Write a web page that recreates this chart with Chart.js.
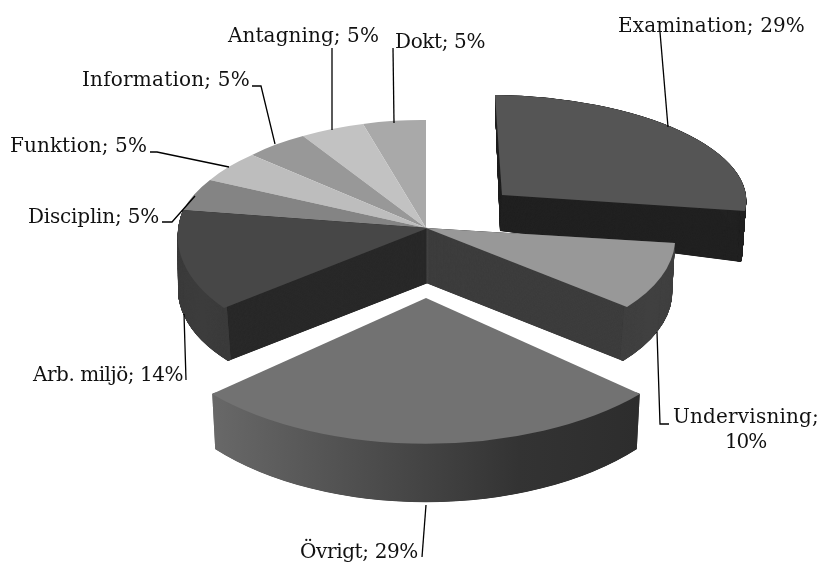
<!DOCTYPE html>
<html><head><meta charset="utf-8">
<style>html,body{margin:0;padding:0;background:#fff}canvas{display:block}</style>
<script src="https://cdn.jsdelivr.net/npm/chart.js@4"></script>
</head><body><canvas id="c" width="821" height="563"></canvas>
<script>
const categories = ['Examination','Undervisning','Övrigt','Arb. miljö','Disciplin','Funktion','Information','Antagning','Dokt'];
const percents = [29,10,29,14,5,5,5,5,5];
const topColors = ['#555555','#989898','#727272','#474747','#848484','#bdbdbd','#989898','#c2c2c2','#a9a9a9'];
const wallColors = ['#222222','#3e3e3e',null,'#2a2a2a',null,null,null,null,null];
const rimColors = ['#222222','#404040',[[0,'#6c6c6c'],[.125,'#686868'],[.49,'#444444'],[.665,'#333333'],[.875,'#2d2d2d'],[1,'#2d2d2d']],'#3c3c3c',null,null,null,null,null];
const paintOrder = [8,7,6,5,4,0,3,1,2];
// projection of each slice: where its centre, first and last rim points land (top face, then bottom face)
const topFace = [
 [[502,195],[495,95],[745,211]],
 [[426,228],[675,243],[627,307]],
 [[426,298],[640,394],[212,394]],
 [[428,228],[224,308],[183,210]],
 [[426,228],[183,210],[210,180]],
 [[426,228],[210,180],[252,155]],
 [[426,228],[252,155],[303,136]],
 [[426,228],[303,136],[363,124]],
 [[426,228],[363,124],[426,120]]
];
const bottomFace = [
 [[500,231],[496,131],[741,262]],
 [[426,283],[672,298],[623,361]],
 [[426,346],[637,449],[215,449]],
 [[428,283],[228,361],[182,268]],
 null,null,null,null,null
];
const labelBoxes = [ // left, right, baseline
 [[618,805,32]],
 [[673,819,423],[725,766,448]],
 [[300,418,558]],
 [[33,183,381]],
 [[28,159,223]],
 [[10,147,152]],
 [[82,250,86]],
 [[228,379,42]],
 [[395,485,48]]
];
const labelLines = [
 [[660,32],[668,127]],
 [[657,332],[660,424],[669,424]],
 [[426,505],[422,557]],
 [[184,314],[186,380]],
 [[162,222],[172,222],[195,196]],
 [[150,152],[157,152],[229,167]],
 [[252,86],[261,86],[275,144]],
 [[332,48],[332,130]],
 [[393,48],[394,123]]
];
const labelFont = '20px "DejaVu Serif","Liberation Serif",serif';

function matrixFor(arc, face){
  const [a,p,q] = face;
  const s = arc.startAngle, e = arc.endAngle;
  const x1=Math.cos(s),y1=Math.sin(s),x2=Math.cos(e),y2=Math.sin(e);
  const d = x1*y2-x2*y1;
  const px=p[0]-a[0],py=p[1]-a[1],qx=q[0]-a[0],qy=q[1]-a[1];
  return {ax:a[0],ay:a[1],
    ux:(px*y2-qx*y1)/d, uy:(py*y2-qy*y1)/d,
    wx:(x1*qx-x2*px)/d, wy:(x1*qy-x2*py)/d};
}
function lerpM(m,n,t){const o={};for(const k in m)o[k]=m[k]+(n[k]-m[k])*t;return o;}
function applyM(ctx,m,arc){
  const R=arc.outerRadius;
  ctx.translate(m.ax,m.ay);
  ctx.transform(m.ux/R,m.uy/R,m.wx/R,m.wy/R,0,0);
  ctx.translate(-arc.x,-arc.y);
}
function drawWith(ctx,arc,m,color,inner){
  const opts=arc.options, ir=arc.innerRadius;
  arc.options=Object.assign({},opts,{backgroundColor:color,borderWidth:0});
  if(inner!==undefined)arc.innerRadius=inner;
  ctx.save();applyM(ctx,m,arc);arc.draw(ctx);ctx.restore();
  arc.options=opts;arc.innerRadius=ir;
}
const pie3d={id:'pie3d',
  beforeDatasetsDraw(chart){
    const ctx=chart.ctx, arcs=chart.getDatasetMeta(0).data;
    paintOrder.forEach(i=>{
      const arc=arcs[i];
      const top=matrixFor(arc,topFace[i]);
      if(bottomFace[i]){
        const bot=matrixFor(arc,bottomFace[i]);
        const R=arc.outerRadius, N=220;
        let rim=rimColors[i];
        if(Array.isArray(rim)){
          const g=ctx.createLinearGradient(arc.x-R,0,arc.x+R,0);
          rim.forEach(s=>g.addColorStop(s[0],s[1]));rim=g;
        }
        if(wallColors[i]) for(let k=N;k>=0;k--) drawWith(ctx,arc,lerpM(top,bot,k/N),wallColors[i]);
        for(let k=N;k>=0;k--) drawWith(ctx,arc,lerpM(top,bot,k/N),rim,R*0.985);
      }
      drawWith(ctx,arc,top,topColors[i]);
    });
    return false;
  },
  afterDraw(chart){
    const ctx=chart.ctx;
    ctx.save();
    ctx.strokeStyle='#000';ctx.lineWidth=1.3;
    labelLines.forEach(l=>{ctx.beginPath();l.forEach((p,j)=>j?ctx.lineTo(p[0],p[1]):ctx.moveTo(p[0],p[1]));ctx.stroke();});
    ctx.fillStyle='#111';ctx.font=labelFont;ctx.textAlign='left';ctx.textBaseline='alphabetic';
    categories.forEach((c,i)=>{
      const whole=c+'; '+percents[i]+'%';
      const boxes=labelBoxes[i];
      const parts=boxes.length>1?[c+';',percents[i]+'%']:[whole];
      parts.forEach((t,j)=>{
        const b=boxes[j];
        ctx.letterSpacing='0px';
        const w=ctx.measureText(t).width;
        ctx.letterSpacing=((b[1]-b[0]-w)/Math.max(1,t.length))+'px';
        ctx.fillText(t,b[0],b[2]);
      });
    });
    ctx.restore();
  }
};
new Chart(document.getElementById('c'),{
  type:'pie',
  data:{labels:categories,datasets:[{data:percents,backgroundColor:topColors,borderWidth:0}]},
  options:{responsive:false,animation:false,rotation:0,
    plugins:{legend:{display:false},tooltip:{enabled:false}}},
  plugins:[pie3d]
});
</script></body></html>
